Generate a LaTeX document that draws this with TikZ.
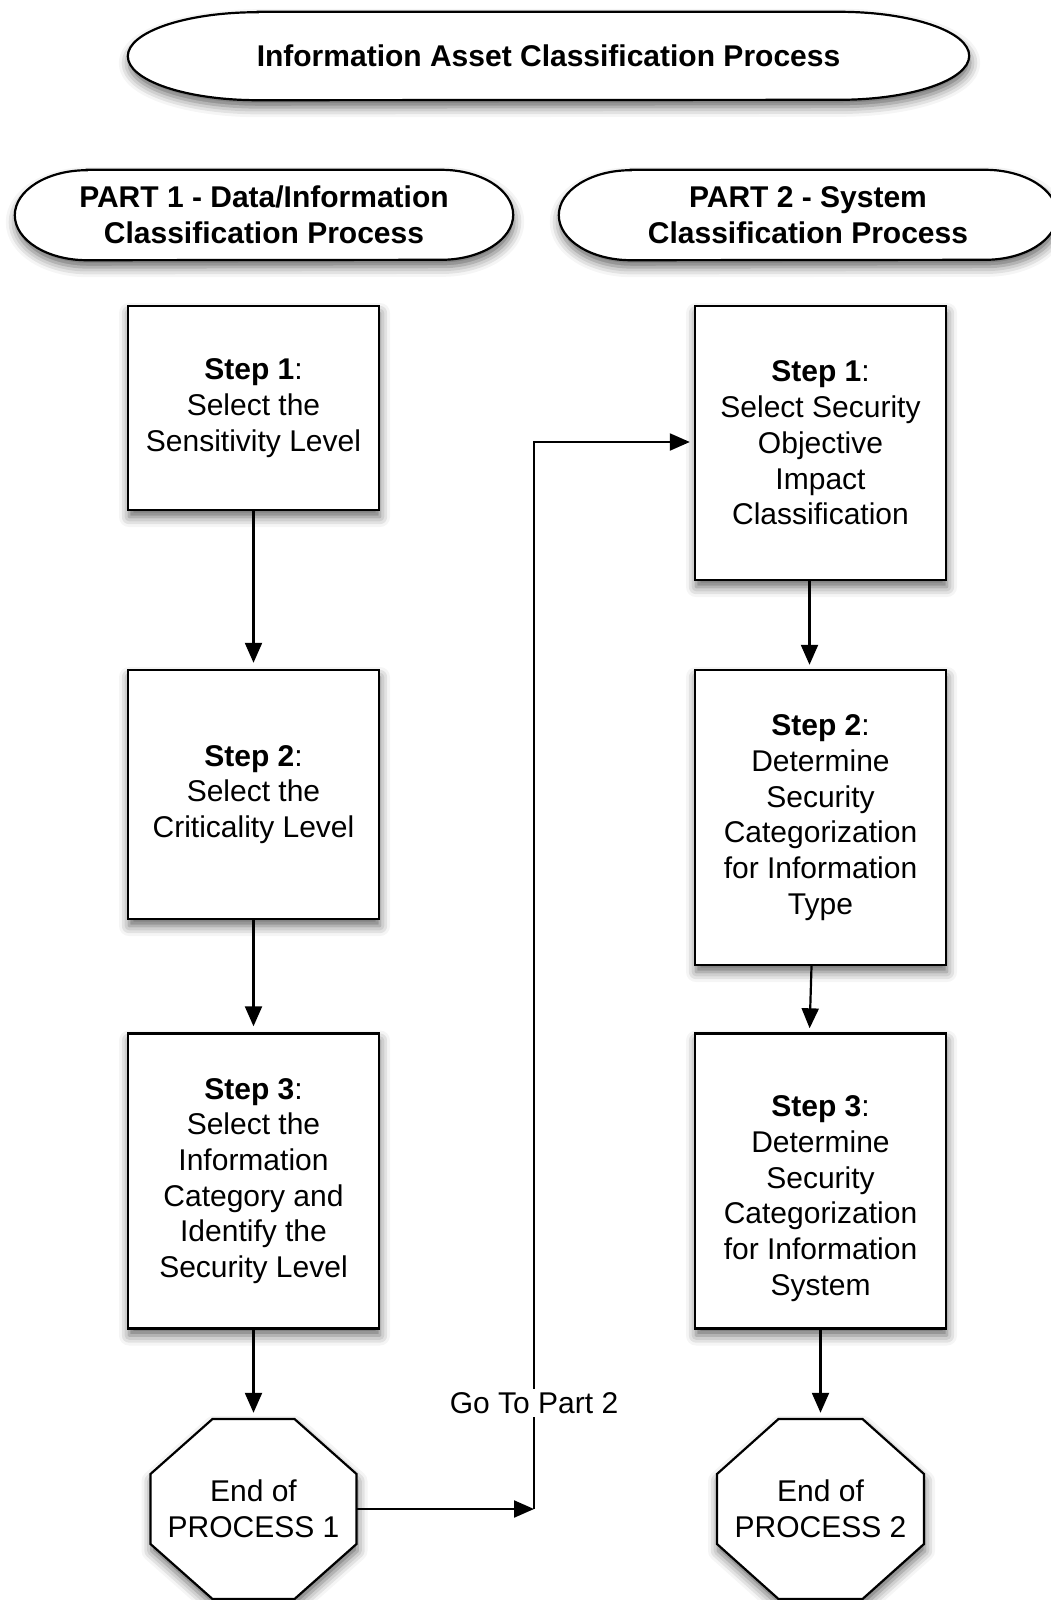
\documentclass[tikz,border=0pt]{standalone}
\usepackage{fontspec}
\setmainfont{Liberation Sans}
\usetikzlibrary{arrows.meta,shadows.blur,backgrounds}
\begin{document}
\begin{tikzpicture}[x=1pt,y=-1pt,
  every node/.style={font=\fontsize{30}{35.7}\selectfont, align=center, text=black},
  softshadow/.style={blur shadow={shadow xshift=1pt, shadow yshift=-7pt, shadow blur radius=10pt, shadow opacity=60}},
  stepbox/.style={draw=black, line width=2.4pt, fill=white, minimum width=251pt, inner sep=0pt, softshadow},
  holder/.style={draw=none, fill=none, inner sep=0pt},
  outline/.style={draw=black, line width=2.2pt, fill=white, softshadow},
  arr/.style={draw=black, line width=2.2pt, -{Triangle[length=20pt,width=17pt]}, shorten >=4pt},
  plainline/.style={draw=black, line width=2pt}
  ]
\useasboundingbox (0,0) rectangle (1050,1600);
\begin{scope}[on background layer]
  \fill[white] (0,0) rectangle (1050,1600);
\end{scope}
% off-page warm-up of the shadow machinery (not visible)
\path[draw=white, fill=white, softshadow] (-400,-400) rectangle (-300,-300);

% title and part headers (outlines drawn on background layer)
\node[holder, minimum width=841pt, minimum height=88pt] (title) at (548.5,56) {\textbf{Information Asset Classification Process}};
\node[holder, minimum width=498pt, minimum height=90pt] (p1) at (264,215) {\textbf{PART 1 - Data/Information}\\\textbf{Classification Process}};
\node[holder, minimum width=498pt, minimum height=90pt] (p2) at (808,215) {\textbf{PART 2 - System}\\\textbf{Classification Process}};

% left column
\node[stepbox, minimum height=204pt] (L1) at (253.5,408) {\textbf{Step 1}:\\Select the\\Sensitivity Level};
\node[stepbox, minimum height=249pt] (L2) at (253.5,794.5) {\textbf{Step 2}:\\Select the\\Criticality Level};
\node[stepbox, minimum height=295pt] (L3) at (253.5,1181) {\textbf{Step 3}:\\Select the\\Information\\Category and\\Identify the\\Security Level};
\node[holder, minimum width=206pt, minimum height=180pt] (e1) at (253.5,1509) {End of\\PROCESS 1};

% right column
\node[stepbox, minimum height=274pt] (R1) at (820.5,443) {\textbf{Step 1}:\\Select Security\\Objective\\Impact\\Classification};
\node[stepbox, minimum height=295pt] (R2) at (820.5,817.5) {\textbf{Step 2}:\\Determine\\Security\\Categorization\\for Information\\Type};
\node[stepbox, minimum height=295pt] (R3) at (820.5,1181) {\rule{0pt}{56pt}\textbf{Step 3}:\\Determine\\Security\\Categorization\\for Information\\System};
\node[holder, minimum width=207pt, minimum height=180pt] (e2) at (820.5,1509) {End of\\PROCESS 2};

\begin{scope}[on background layer]
  \path[outline] ([xshift=130pt]title.north west) -- ([xshift=-130pt]title.north east)
     arc[start angle=90, end angle=-90, x radius=130pt, y radius=44pt]
     -- ([xshift=130pt]title.south west)
     arc[start angle=270, end angle=90, x radius=130pt, y radius=44pt] -- cycle;
  \path[outline] ([xshift=72pt]p1.north west) -- ([xshift=-72pt]p1.north east)
     arc[start angle=90, end angle=-90, x radius=72pt, y radius=45pt]
     -- ([xshift=72pt]p1.south west)
     arc[start angle=270, end angle=90, x radius=72pt, y radius=45pt] -- cycle;
  \path[outline] ([xshift=72pt]p2.north west) -- ([xshift=-72pt]p2.north east)
     arc[start angle=90, end angle=-90, x radius=72pt, y radius=45pt]
     -- ([xshift=72pt]p2.south west)
     arc[start angle=270, end angle=90, x radius=72pt, y radius=45pt] -- cycle;
  \path[outline] ([shift={(-41pt,90pt)}]e1.center) -- ([shift={(41pt,90pt)}]e1.center)
     -- ([shift={(103pt,35pt)}]e1.center) -- ([shift={(103pt,-35pt)}]e1.center)
     -- ([shift={(41pt,-90pt)}]e1.center) -- ([shift={(-41pt,-90pt)}]e1.center)
     -- ([shift={(-103pt,-35pt)}]e1.center) -- ([shift={(-103pt,35pt)}]e1.center) -- cycle;
  \path[outline] ([shift={(-42pt,90pt)}]e2.center) -- ([shift={(42pt,90pt)}]e2.center)
     -- ([shift={(103.5pt,35pt)}]e2.center) -- ([shift={(103.5pt,-35pt)}]e2.center)
     -- ([shift={(42pt,-90pt)}]e2.center) -- ([shift={(-42pt,-90pt)}]e2.center)
     -- ([shift={(-103.5pt,-35pt)}]e2.center) -- ([shift={(-103.5pt,35pt)}]e2.center) -- cycle;
\end{scope}

% connectors
\draw[arr, shorten >=6pt] (L1.south) -- (L2.north);
\draw[arr, shorten >=6pt] (L2.south) -- (L3.north);
\draw[arr, shorten >=6pt] (L3.south) -- (e1.north);
\draw[arr] ([xshift=-11pt]R1.south) -- ([xshift=-11pt]R2.north);
\draw[arr] ([xshift=-9pt]R2.south) -- ([xshift=-11pt]R3.north);
\draw[arr, shorten >=6pt] (R3.south) -- (e2.north);

\coordinate (j) at (534,1509);
\draw[arr, shorten >=0pt] (e1.east) -- (j);
\draw[arr] (j) |- ([yshift=1pt]R1.west);
\node[fill=white, inner sep=3pt] (go) at (534,1403) {Go To Part 2};
\end{tikzpicture}
\end{document}
